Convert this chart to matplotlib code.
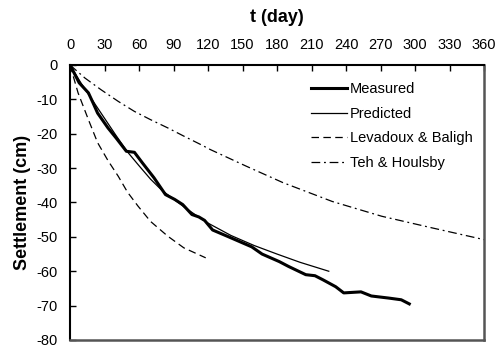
import matplotlib.pyplot as plt

plt.rcParams['font.family'] = ['Liberation Sans', 'DejaVu Sans']
plt.rcParams['axes.unicode_minus'] = False

# measured settlement
t_meas = [0, 8, 16, 20, 24, 33, 40, 49, 56, 63, 73, 83, 91, 98, 106, 112, 117,
          124, 138, 158, 167, 182, 190, 205, 213, 220, 231, 238, 253, 262,
          277, 288, 295]
s_meas = [0, -5.2, -8.1, -11, -14, -18.3, -21.2, -25.1, -25.4, -28.5, -32.8,
          -37.7, -39.1, -40.6, -43.5, -44.2, -45.2, -48, -50, -52.9, -55,
          -57.2, -58.6, -61, -61.3, -62.5, -64.5, -66.3, -66, -67.2, -67.8,
          -68.3, -69.5]

# predicted
t_pred = [0, 10, 20, 30, 40, 50, 60, 70, 80, 90, 100, 110, 120, 140, 160,
          180, 200, 225]
s_pred = [0, -5.5, -10.5, -15.5, -20.5, -25.3, -29.3, -33.2, -36.5, -39,
          -41.5, -43.8, -46, -49.6, -52.5, -55, -57.4, -60]

# Levadoux & Baligh
t_lb = [0, 7, 16, 24, 33, 42, 50, 59, 70, 85, 99, 118]
s_lb = [0, -8.1, -15.9, -22.6, -27.8, -32.4, -37, -41, -45.5, -49.8, -53.2,
        -56.1]

# Teh & Houlsby
t_th = [0, 13, 27, 42, 56, 70, 85, 99, 114, 122, 153, 185, 228, 271, 315, 360]
s_th = [0, -3.8, -7.2, -10.6, -13.5, -15.9, -18.3, -20.7, -23.2, -24.6, -29.4,
        -34.2, -39.7, -44, -47.4, -50.8]

fig = plt.figure(figsize=(4.99, 3.47), dpi=100)
ax = fig.add_axes([0.1403, 0.0202, 0.8297, 0.7925])

ax.plot(t_meas, s_meas, color='black', lw=2.2, label='Measured')
ax.plot(t_pred, s_pred, color='black', lw=0.9, label='Predicted')
ax.plot(t_lb, s_lb, color='black', lw=0.9, dashes=(6, 3.5),
        label='Levadoux & Baligh')
ax.plot(t_th, s_th, color='black', lw=0.9, dashes=(7, 3, 1.5, 3),
        label='Teh & Houlsby')

ax.set_xlim(0, 360)
ax.set_ylim(-80, 0)
ax.set_xticks(range(0, 361, 30))
ax.set_yticks(range(-80, 1, 10))
ax.xaxis.tick_top()
ax.xaxis.set_label_position('top')
ax.tick_params(axis='both', direction='in', length=4, width=1,
               labelsize=10.5, pad=9)
ax.tick_params(axis='y', right=False)

ax.set_xlabel('t (day)', fontsize=13, fontweight='bold', labelpad=12)
ax.set_ylabel('Settlement (cm)', fontsize=13, fontweight='bold',
              labelpad=4)

for side in ['left', 'top']:
    ax.spines[side].set_linewidth(1.5)
    ax.spines[side].set_color('black')
for side in ['right', 'bottom']:
    ax.spines[side].set_linewidth(1.8)
    ax.spines[side].set_color('#555555')

ax.legend(loc='upper left', bbox_to_anchor=(0.55, 0.985), frameon=False,
          fontsize=10.5, handlelength=2.5, handletextpad=0.2,
          labelspacing=0.72)

fig.savefig('out.png', dpi=100)
